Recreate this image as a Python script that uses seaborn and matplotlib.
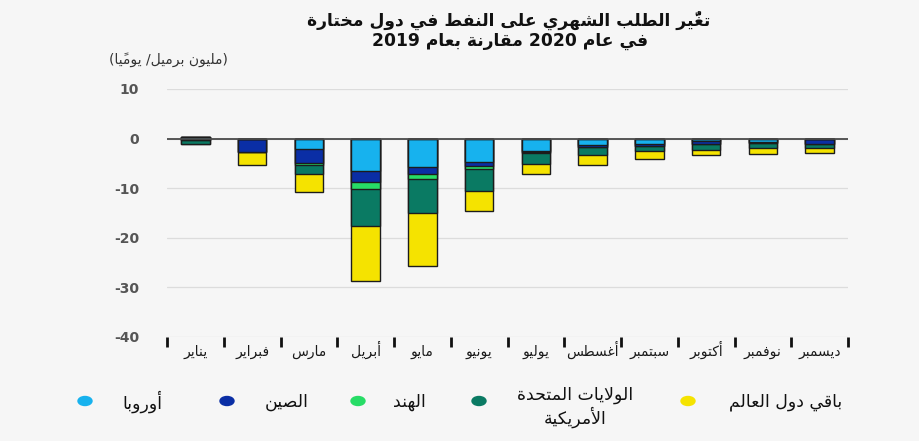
import numpy as np
import pandas as pd
import matplotlib
matplotlib.use("Agg")
import matplotlib.pyplot as plt
from matplotlib.patches import Ellipse
import seaborn as sns

# ---- data (million barrels per day, 2020 vs 2019) ----
months = ["يناير", "فبراير", "مارس", "أبريل", "مايو", "يونيو",
          "يوليو", "أغسطس", "سبتمبر", "أكتوبر", "نوفمبر", "ديسمبر"]
europe = [0.4, 0.0, -2.0, -6.6, -5.8, -4.7, -2.6, -1.2, -1.0, -0.5, -0.6, 0.0]
china = [-0.3, -2.7, -2.9, -2.2, -1.3, -0.9, -0.2, -0.55, -0.55, -0.5, -0.2, -1.0]
india = [0.0, 0.0, -0.5, -1.3, -1.1, -0.5, -0.1, 0.0, 0.0, 0.0, 0.0, 0.0]
usa = [-0.7, -0.1, -1.7, -7.6, -6.9, -4.5, -2.2, -1.65, -1.0, -1.3, -1.1, -0.9]
rest = [0.0, -2.6, -3.7, -11.1, -10.6, -3.9, -2.0, -2.0, -1.55, -1.1, -1.2, -1.0]

series_names = ["أوروبا", "الصين", "الهند", "الولايات المتحدة\nالأمريكية", "باقي دول العالم"]
series_values = [europe, china, india, usa, rest]
series_colors = ["#17b2ee", "#0a2ea5", "#27dc66", "#0a7a63", "#f5e300"]

title_text = "تغيُّر الطلب الشهري على النفط في دول مختارة\nفي عام 2020 مقارنة بعام 2019"
unit_text = "(مليون برميل/ يوميًا)"
y_ticks = [10, 0, -10, -20, -30, -40]

# ---- minimal Arabic shaping (contextual forms + right-to-left order) ----
FORMS = {
    '\u0621': ('\uFE80', None, None, None),
    '\u0622': ('\uFE81', '\uFE82', None, None),
    '\u0623': ('\uFE83', '\uFE84', None, None),
    '\u0624': ('\uFE85', '\uFE86', None, None),
    '\u0625': ('\uFE87', '\uFE88', None, None),
    '\u0626': ('\uFE89', '\uFE8A', '\uFE8B', '\uFE8C'),
    '\u0627': ('\uFE8D', '\uFE8E', None, None),
    '\u0628': ('\uFE8F', '\uFE90', '\uFE91', '\uFE92'),
    '\u0629': ('\uFE93', '\uFE94', None, None),
    '\u062A': ('\uFE95', '\uFE96', '\uFE97', '\uFE98'),
    '\u062B': ('\uFE99', '\uFE9A', '\uFE9B', '\uFE9C'),
    '\u062C': ('\uFE9D', '\uFE9E', '\uFE9F', '\uFEA0'),
    '\u062D': ('\uFEA1', '\uFEA2', '\uFEA3', '\uFEA4'),
    '\u062E': ('\uFEA5', '\uFEA6', '\uFEA7', '\uFEA8'),
    '\u062F': ('\uFEA9', '\uFEAA', None, None),
    '\u0630': ('\uFEAB', '\uFEAC', None, None),
    '\u0631': ('\uFEAD', '\uFEAE', None, None),
    '\u0632': ('\uFEAF', '\uFEB0', None, None),
    '\u0633': ('\uFEB1', '\uFEB2', '\uFEB3', '\uFEB4'),
    '\u0634': ('\uFEB5', '\uFEB6', '\uFEB7', '\uFEB8'),
    '\u0635': ('\uFEB9', '\uFEBA', '\uFEBB', '\uFEBC'),
    '\u0636': ('\uFEBD', '\uFEBE', '\uFEBF', '\uFEC0'),
    '\u0637': ('\uFEC1', '\uFEC2', '\uFEC3', '\uFEC4'),
    '\u0638': ('\uFEC5', '\uFEC6', '\uFEC7', '\uFEC8'),
    '\u0639': ('\uFEC9', '\uFECA', '\uFECB', '\uFECC'),
    '\u063A': ('\uFECD', '\uFECE', '\uFECF', '\uFED0'),
    '\u0641': ('\uFED1', '\uFED2', '\uFED3', '\uFED4'),
    '\u0642': ('\uFED5', '\uFED6', '\uFED7', '\uFED8'),
    '\u0643': ('\uFED9', '\uFEDA', '\uFEDB', '\uFEDC'),
    '\u0644': ('\uFEDD', '\uFEDE', '\uFEDF', '\uFEE0'),
    '\u0645': ('\uFEE1', '\uFEE2', '\uFEE3', '\uFEE4'),
    '\u0646': ('\uFEE5', '\uFEE6', '\uFEE7', '\uFEE8'),
    '\u0647': ('\uFEE9', '\uFEEA', '\uFEEB', '\uFEEC'),
    '\u0648': ('\uFEED', '\uFEEE', None, None),
    '\u0649': ('\uFEEF', '\uFEF0', None, None),
    '\u064A': ('\uFEF1', '\uFEF2', '\uFEF3', '\uFEF4'),
}
LAM_ALEF = {'\u0622': ('\uFEF5', '\uFEF6'), '\u0623': ('\uFEF7', '\uFEF8'),
            '\u0625': ('\uFEF9', '\uFEFA'), '\u0627': ('\uFEFB', '\uFEFC')}
MARKS = {chr(c) for c in range(0x064B, 0x0653)} | {'\u0670'}
MIRROR = {'(': ')', ')': '('}


def _joins_next(c):
    if len(c) > 1:
        return False
    f = FORMS.get(c)
    return f is not None and f[2] is not None


def _joins_prev(c):
    if len(c) > 1:
        return True
    f = FORMS.get(c)
    return f is not None and f[1] is not None


def shape_line(text):
    units = []
    for ch in text:
        if ch in MARKS and units:
            units[-1][1] += ch
        else:
            units.append([ch, ''])
    merged, i = [], 0
    while i < len(units):
        ch, mk = units[i]
        if ch == '\u0644' and i + 1 < len(units) and units[i + 1][0] in LAM_ALEF:
            merged.append(['LA' + units[i + 1][0], mk + units[i + 1][1]])
            i += 2
        else:
            merged.append([ch, mk])
            i += 1
    shaped = []
    for i, (c, mk) in enumerate(merged):
        prev = merged[i - 1][0] if i > 0 else None
        nxt = merged[i + 1][0] if i + 1 < len(merged) else None
        jp = prev is not None and _joins_next(prev) and _joins_prev(c)
        jn = nxt is not None and _joins_next(c) and _joins_prev(nxt)
        if len(c) > 1:
            iso, fin = LAM_ALEF[c[2]]
            g = fin if jp else iso
        elif c in FORMS:
            iso, fin, ini, med = FORMS[c]
            g = med if (jp and jn) else fin if jp else ini if jn else iso
        else:
            g = c
        shaped.append((g, mk))
    # split into left-to-right digit runs and right-to-left runs
    runs = []
    for g, mk in shaped:
        ltr = g.isascii() and g.isdigit()
        if runs and runs[-1][0] == ltr:
            runs[-1][1].append((g, mk))
        else:
            runs.append((ltr, [(g, mk)]))
    out = []
    for ltr, cl in reversed(runs):
        seq = cl if ltr else list(reversed(cl))
        for g, mk in seq:
            out.append(g if ltr else MIRROR.get(g, g))
            out.append(mk)
    return ''.join(out)


def ar(text):
    return '\n'.join(shape_line(line) for line in text.split('\n'))


# ---- figure ----
sns.set_style("white")
plt.rcParams['font.family'] = ['DejaVu Sans']
BG = "#f6f6f6"
fig = plt.figure(figsize=(9.19, 4.41), dpi=100, facecolor=BG)
ax = fig.add_axes([167 / 919, 1 - 337 / 441, (848 - 167) / 919, (337 - 89) / 441])
ax.set_facecolor(BG)

vals = np.array(series_values, dtype=float)
neg = np.cumsum(np.where(vals < 0, vals, 0), axis=0)
pos = np.cumsum(np.where(vals > 0, vals, 0), axis=0)

# stacked bars: deepest cumulative layer first, upper layers drawn over it
for k in range(len(series_values) - 1, -1, -1):
    for cum in (neg[k], pos[k]):
        df = pd.DataFrame({"month": months, "value": cum})
        sns.barplot(data=df, x="month", y="value", order=months, color=series_colors[k],
                    saturation=1, width=0.5, edgecolor="#1c1c1c", linewidth=1.0,
                    errorbar=None, ax=ax, zorder=2)

ax.axhline(0, color="#4a4a4a", lw=1.3, zorder=4)
ax.set_ylim(-40, 10)
ax.set_xlim(-0.5, len(months) - 0.5)
ax.set_yticks(y_ticks)
ax.set_yticklabels([str(t) for t in y_ticks])
ax.yaxis.grid(True, color="#dcdcdc", lw=0.9)
ax.set_axisbelow(True)
ax.tick_params(axis='y', length=0, pad=20, labelsize=10, labelcolor="#555555")
for lab in ax.get_yticklabels():
    lab.set_fontweight("bold")

ax.set_xticks(range(len(months)))
ax.set_xticklabels([ar(m) for m in months])
ax.set_xticks(np.arange(-0.5, len(months), 1), minor=True)
ax.tick_params(axis='x', which='major', bottom=True, length=0, pad=13.5,
               labelsize=10, labelcolor="#1a1a1a")
ax.tick_params(axis='x', which='minor', bottom=True, length=7, width=2,
               color="#111111", direction='out')
for lab in ax.get_xticklabels():
    lab.set_va("baseline")
ax.set_xlabel("")
ax.set_ylabel("")
for s in ax.spines.values():
    s.set_visible(False)

# ---- overlay in pixel coordinates for titles and legend ----
ov = fig.add_axes([0, 0, 1, 1])
ov.set_xlim(0, 919)
ov.set_ylim(441, 0)
ov.axis("off")
ov.patch.set_alpha(0)

lines = title_text.split("\n")
ov.text(509, 20, ar(lines[0]), ha="center", va="center", fontsize=12.3,
        fontweight="bold", color="#111111")
ov.text(510, 41, ar(lines[1]), ha="center", va="center", fontsize=12.3,
        fontweight="bold", color="#111111")
ov.text(168, 60, ar(unit_text), ha="center", va="center", fontsize=10, color="#333333")

legend_dot_x = [85, 227, 358, 479, 688]
legend_text_x = [142, 287, 409, 575, 786]
for name, col, dx, tx in zip(series_names, series_colors, legend_dot_x, legend_text_x):
    ov.add_patch(Ellipse((dx, 401), 14, 9, color=col))
    ov.text(tx, 402 if "\n" not in name else 407, ar(name), ha="center", va="center",
            fontsize=12.5, color="#111111", linespacing=1.15)

fig.savefig("out.png", dpi=100, facecolor=BG)
